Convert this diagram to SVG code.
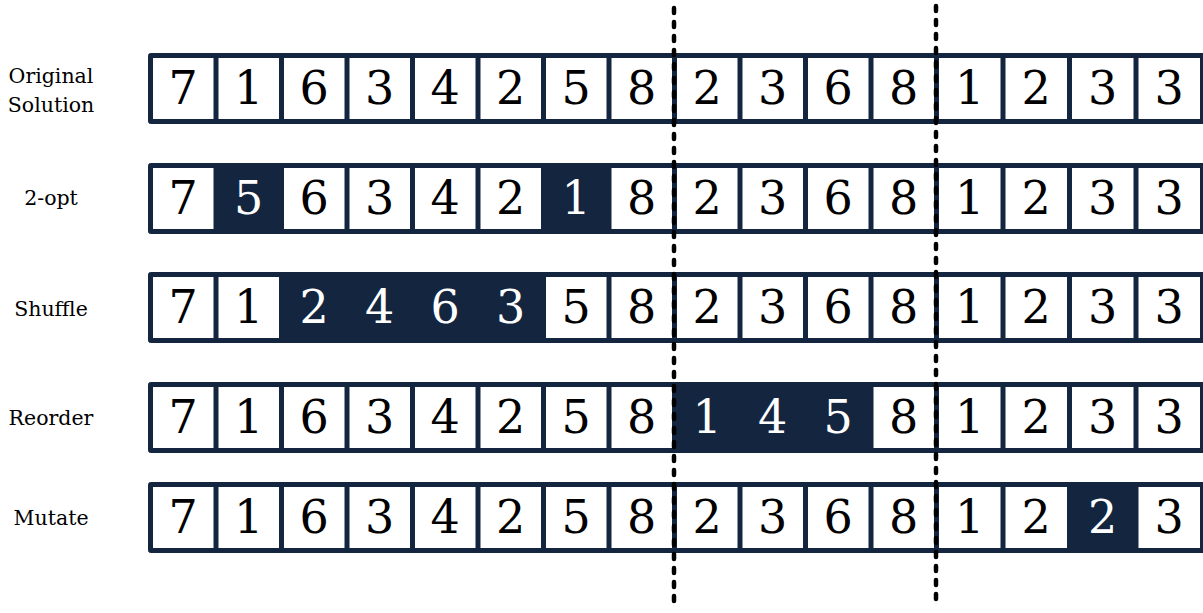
<svg xmlns="http://www.w3.org/2000/svg" width="1203" height="613" viewBox="0 0 1203 613">
<style>
.frame{fill:#13253f;stroke:#13253f;stroke-width:1}
.cell{fill:#ffffff}
.d{font-family:'DejaVu Serif',serif;font-size:46px;text-anchor:middle;fill:#000}
.w{fill:#ffffff}
.lbl{font-family:'DejaVu Serif',serif;font-size:20.5px;text-anchor:middle;fill:#000}
.cut{stroke:#000;stroke-width:4.5;stroke-dasharray:5 9;stroke-linecap:round;fill:none}
</style>
<rect width="1203" height="613" fill="#ffffff"/>
<g id="labels">
<text class="lbl" x="51" y="83">Original</text>
<text class="lbl" x="51" y="112">Solution</text>
<text class="lbl" x="51" y="205">2-opt</text>
<text class="lbl" x="51" y="316">Shuffle</text>
<text class="lbl" x="51" y="425">Reorder</text>
<text class="lbl" x="51" y="525">Mutate</text>
</g>
<g id="row-original">
<rect class="frame" x="148.5" y="53.5" width="1060" height="70" rx="2"/>
<rect class="cell" x="153" y="58" width="60.5" height="61"/>
<rect class="cell" x="218.5" y="58" width="60.5" height="61"/>
<rect class="cell" x="284" y="58" width="60.5" height="61"/>
<rect class="cell" x="349.5" y="58" width="60.5" height="61"/>
<rect class="cell" x="415" y="58" width="60.5" height="61"/>
<rect class="cell" x="480.5" y="58" width="60.5" height="61"/>
<rect class="cell" x="546" y="58" width="60.5" height="61"/>
<rect class="cell" x="611.5" y="58" width="60.5" height="61"/>
<rect class="cell" x="677" y="58" width="60.5" height="61"/>
<rect class="cell" x="742.5" y="58" width="60.5" height="61"/>
<rect class="cell" x="808" y="58" width="60.5" height="61"/>
<rect class="cell" x="873.5" y="58" width="60.5" height="61"/>
<rect class="cell" x="939" y="58" width="61.5" height="61"/>
<rect class="cell" x="1005.5" y="58" width="61.5" height="61"/>
<rect class="cell" x="1072" y="58" width="61.5" height="61"/>
<rect class="cell" x="1138.5" y="58" width="61.5" height="61"/>
<text class="d" x="183.25" y="104">7</text><text class="d" x="248.75" y="104">1</text><text class="d" x="314.25" y="104">6</text><text class="d" x="379.75" y="104">3</text><text class="d" x="445.25" y="104">4</text><text class="d" x="510.75" y="104">2</text><text class="d" x="576.25" y="104">5</text><text class="d" x="641.75" y="104">8</text><text class="d" x="707.25" y="104">2</text><text class="d" x="772.75" y="104">3</text><text class="d" x="838.25" y="104">6</text><text class="d" x="903.75" y="104">8</text><text class="d" x="969.75" y="104">1</text><text class="d" x="1036.25" y="104">2</text><text class="d" x="1102.75" y="104">3</text><text class="d" x="1169.25" y="104">3</text>
</g>
<g id="row-2opt">
<rect class="frame" x="148.5" y="163.5" width="1060" height="70" rx="2"/>
<rect class="cell" x="153" y="168" width="60.5" height="61"/>
<rect class="cell" x="284" y="168" width="60.5" height="61"/>
<rect class="cell" x="349.5" y="168" width="60.5" height="61"/>
<rect class="cell" x="415" y="168" width="60.5" height="61"/>
<rect class="cell" x="480.5" y="168" width="60.5" height="61"/>
<rect class="cell" x="611.5" y="168" width="60.5" height="61"/>
<rect class="cell" x="677" y="168" width="60.5" height="61"/>
<rect class="cell" x="742.5" y="168" width="60.5" height="61"/>
<rect class="cell" x="808" y="168" width="60.5" height="61"/>
<rect class="cell" x="873.5" y="168" width="60.5" height="61"/>
<rect class="cell" x="939" y="168" width="61.5" height="61"/>
<rect class="cell" x="1005.5" y="168" width="61.5" height="61"/>
<rect class="cell" x="1072" y="168" width="61.5" height="61"/>
<rect class="cell" x="1138.5" y="168" width="61.5" height="61"/>
<text class="d" x="183.25" y="214">7</text><text class="d w" x="248.75" y="214">5</text><text class="d" x="314.25" y="214">6</text><text class="d" x="379.75" y="214">3</text><text class="d" x="445.25" y="214">4</text><text class="d" x="510.75" y="214">2</text><text class="d w" x="576.25" y="214">1</text><text class="d" x="641.75" y="214">8</text><text class="d" x="707.25" y="214">2</text><text class="d" x="772.75" y="214">3</text><text class="d" x="838.25" y="214">6</text><text class="d" x="903.75" y="214">8</text><text class="d" x="969.75" y="214">1</text><text class="d" x="1036.25" y="214">2</text><text class="d" x="1102.75" y="214">3</text><text class="d" x="1169.25" y="214">3</text>
</g>
<g id="row-shuffle">
<rect class="frame" x="148.5" y="272.5" width="1060" height="70" rx="2"/>
<rect class="cell" x="153" y="277" width="60.5" height="61"/>
<rect class="cell" x="218.5" y="277" width="60.5" height="61"/>
<rect class="cell" x="546" y="277" width="60.5" height="61"/>
<rect class="cell" x="611.5" y="277" width="60.5" height="61"/>
<rect class="cell" x="677" y="277" width="60.5" height="61"/>
<rect class="cell" x="742.5" y="277" width="60.5" height="61"/>
<rect class="cell" x="808" y="277" width="60.5" height="61"/>
<rect class="cell" x="873.5" y="277" width="60.5" height="61"/>
<rect class="cell" x="939" y="277" width="61.5" height="61"/>
<rect class="cell" x="1005.5" y="277" width="61.5" height="61"/>
<rect class="cell" x="1072" y="277" width="61.5" height="61"/>
<rect class="cell" x="1138.5" y="277" width="61.5" height="61"/>
<text class="d" x="183.25" y="323">7</text><text class="d" x="248.75" y="323">1</text><text class="d w" x="314.25" y="323">2</text><text class="d w" x="379.75" y="323">4</text><text class="d w" x="445.25" y="323">6</text><text class="d w" x="510.75" y="323">3</text><text class="d" x="576.25" y="323">5</text><text class="d" x="641.75" y="323">8</text><text class="d" x="707.25" y="323">2</text><text class="d" x="772.75" y="323">3</text><text class="d" x="838.25" y="323">6</text><text class="d" x="903.75" y="323">8</text><text class="d" x="969.75" y="323">1</text><text class="d" x="1036.25" y="323">2</text><text class="d" x="1102.75" y="323">3</text><text class="d" x="1169.25" y="323">3</text>
</g>
<g id="row-reorder">
<rect class="frame" x="148.5" y="382.5" width="1060" height="70" rx="2"/>
<rect class="cell" x="153" y="387" width="60.5" height="61"/>
<rect class="cell" x="218.5" y="387" width="60.5" height="61"/>
<rect class="cell" x="284" y="387" width="60.5" height="61"/>
<rect class="cell" x="349.5" y="387" width="60.5" height="61"/>
<rect class="cell" x="415" y="387" width="60.5" height="61"/>
<rect class="cell" x="480.5" y="387" width="60.5" height="61"/>
<rect class="cell" x="546" y="387" width="60.5" height="61"/>
<rect class="cell" x="611.5" y="387" width="60.5" height="61"/>
<rect class="cell" x="873.5" y="387" width="60.5" height="61"/>
<rect class="cell" x="939" y="387" width="61.5" height="61"/>
<rect class="cell" x="1005.5" y="387" width="61.5" height="61"/>
<rect class="cell" x="1072" y="387" width="61.5" height="61"/>
<rect class="cell" x="1138.5" y="387" width="61.5" height="61"/>
<text class="d" x="183.25" y="433">7</text><text class="d" x="248.75" y="433">1</text><text class="d" x="314.25" y="433">6</text><text class="d" x="379.75" y="433">3</text><text class="d" x="445.25" y="433">4</text><text class="d" x="510.75" y="433">2</text><text class="d" x="576.25" y="433">5</text><text class="d" x="641.75" y="433">8</text><text class="d w" x="707.25" y="433">1</text><text class="d w" x="772.75" y="433">4</text><text class="d w" x="838.25" y="433">5</text><text class="d" x="903.75" y="433">8</text><text class="d" x="969.75" y="433">1</text><text class="d" x="1036.25" y="433">2</text><text class="d" x="1102.75" y="433">3</text><text class="d" x="1169.25" y="433">3</text>
</g>
<g id="row-mutate">
<rect class="frame" x="148.5" y="482.5" width="1060" height="70" rx="2"/>
<rect class="cell" x="153" y="487" width="60.5" height="61"/>
<rect class="cell" x="218.5" y="487" width="60.5" height="61"/>
<rect class="cell" x="284" y="487" width="60.5" height="61"/>
<rect class="cell" x="349.5" y="487" width="60.5" height="61"/>
<rect class="cell" x="415" y="487" width="60.5" height="61"/>
<rect class="cell" x="480.5" y="487" width="60.5" height="61"/>
<rect class="cell" x="546" y="487" width="60.5" height="61"/>
<rect class="cell" x="611.5" y="487" width="60.5" height="61"/>
<rect class="cell" x="677" y="487" width="60.5" height="61"/>
<rect class="cell" x="742.5" y="487" width="60.5" height="61"/>
<rect class="cell" x="808" y="487" width="60.5" height="61"/>
<rect class="cell" x="873.5" y="487" width="60.5" height="61"/>
<rect class="cell" x="939" y="487" width="61.5" height="61"/>
<rect class="cell" x="1005.5" y="487" width="61.5" height="61"/>
<rect class="cell" x="1138.5" y="487" width="61.5" height="61"/>
<text class="d" x="183.25" y="533">7</text><text class="d" x="248.75" y="533">1</text><text class="d" x="314.25" y="533">6</text><text class="d" x="379.75" y="533">3</text><text class="d" x="445.25" y="533">4</text><text class="d" x="510.75" y="533">2</text><text class="d" x="576.25" y="533">5</text><text class="d" x="641.75" y="533">8</text><text class="d" x="707.25" y="533">2</text><text class="d" x="772.75" y="533">3</text><text class="d" x="838.25" y="533">6</text><text class="d" x="903.75" y="533">8</text><text class="d" x="969.75" y="533">1</text><text class="d" x="1036.25" y="533">2</text><text class="d w" x="1102.75" y="533">2</text><text class="d" x="1169.25" y="533">3</text>
</g>
<g id="connectors">
<line class="cut" x1="674" y1="8" x2="674" y2="606"/>
<line class="cut" x1="936" y1="6" x2="936" y2="604"/>
</g>
</svg>
